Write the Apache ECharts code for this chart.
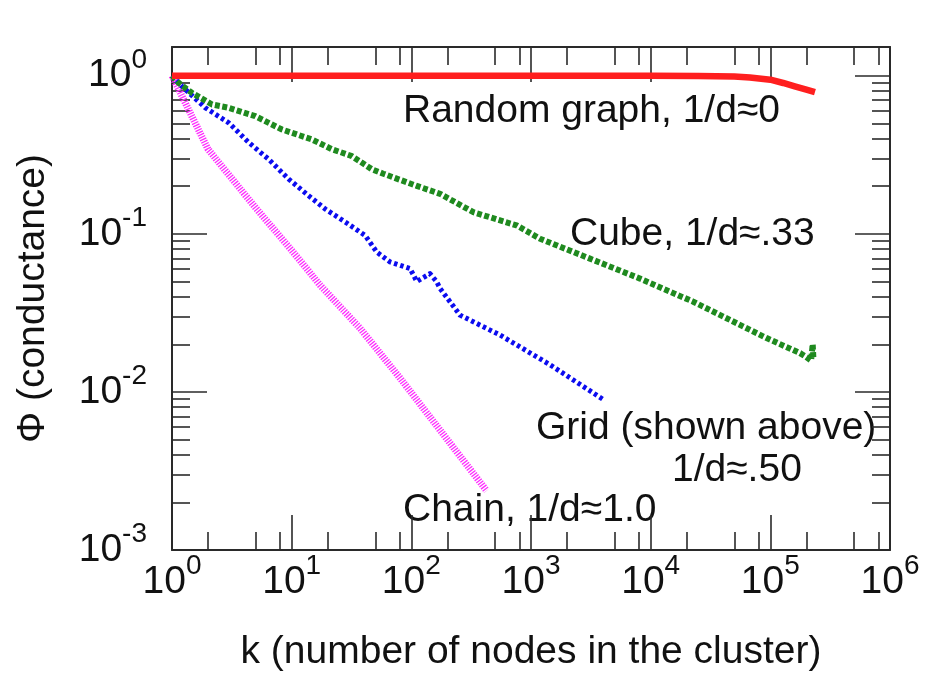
<!DOCTYPE html>
<html>
<head>
<meta charset="utf-8">
<script src="https://cdn.jsdelivr.net/npm/echarts@6/dist/echarts.min.js"></script>
<style>
  html, body { margin: 0; padding: 0; background: #fff; }
  #chart { width: 928px; height: 677px; }
</style>
</head>
<body>
<div id="chart"></div>
<script>
// Conductance Φ of the best cluster of size k, for four graph families.
const randomK   = [1, 10, 100, 1000, 10000, 25000, 50000, 67500, 100000, 128000, 160000, 200000, 236000];
const randomPhi = [1, 1, 1, 1, 1, 0.998, 0.99, 0.975, 0.944, 0.90, 0.857, 0.817, 0.787];

const cubeK   = [1, 1.14, 1.47, 2.16, 2.98, 4.97, 8.3, 14.8, 21.7, 31.9, 46.9, 58.3, 111, 174, 330, 759, 1190, 3110, 8150, 22700, 93100, 177000, 200000, 219000, 226000, 229000];
const cubePhi = [1, 0.90, 0.778, 0.658, 0.627, 0.555, 0.457, 0.395, 0.343, 0.310, 0.256, 0.240, 0.201, 0.179, 0.137, 0.113, 0.0931, 0.0697, 0.0521, 0.0372, 0.0219, 0.0176, 0.0166, 0.0158, 0.0200, 0.0163];

const gridK   = [1, 1.21, 1.9, 2.98, 4.38, 6.43, 9.44, 13.9, 19.1, 28.1, 41.2, 51.4, 66.4, 97.5, 111, 143, 163, 174, 255, 551, 1440, 4020];
const gridPhi = [1, 0.857, 0.627, 0.504, 0.378, 0.296, 0.222, 0.174, 0.1435, 0.1186, 0.0975, 0.0767, 0.0664, 0.0603, 0.0500, 0.0560, 0.0497, 0.0451, 0.0306, 0.0229, 0.01486, 0.00895];

const chainK   = [1, 2, 5, 10, 17.3, 37.2, 80.4, 200, 426];
const chainPhi = [1, 0.343, 0.146, 0.0787, 0.0473, 0.0253, 0.01225, 0.00499, 0.00237];

// Decade exponents for tick labels, and mantissas for the minor ticks.
const xExponents = [0, 1, 2, 3, 4, 5, 6];
const yExponents = [-3, -2, -1, 0];
const xMinorMantissas = [2, 5, 8];
const yMinorMantissas = [2, 3, 4, 5, 6, 7, 8, 9];
const yTopPhi = 1.52;

const FONT = '"Liberation Sans", Arial, sans-serif';
const INK = '#111';
const AXIS = '#2a2a2a';

// Both axes are drawn in log10 space.
const toLog = (ks, phis) => ks.map((k, i) => [Math.log10(k), Math.log10(phis[i])]);

const minorValues = (exps, mants) => {
  const out = [];
  exps.forEach(e => mants.forEach(m => out.push(e + Math.log10(m))));
  return out;
};
const xMinor = minorValues(xExponents.slice(0, -1), xMinorMantissas);
const yMinor = minorValues(yExponents.slice(0, -1), yMinorMantissas);

const powLabel = v => '{b|10}{s|' + Math.round(v) + '}';
const labelRich = {
  b: { fontSize: 39, fontFamily: FONT, color: INK, lineHeight: 40 },
  s: { fontSize: 28, fontFamily: FONT, color: INK, lineHeight: 28, padding: [0, 0, 31, 0] }
};

const xRange = { min: xExponents[0], max: xExponents[xExponents.length - 1] };
const yRange = { min: yExponents[0], max: Math.log10(yTopPhi) };

const frameLine = { show: true, onZero: false, lineStyle: { color: AXIS, width: 2 } };
const noLine = { show: false, onZero: false };
const tickStyle = { color: AXIS, width: 1.6 };

function axis(base, opts) {
  return Object.assign({
    type: 'value',
    splitLine: { show: false },
    axisLine: noLine,
    axisLabel: { show: false },
    axisTick: { show: false }
  }, base, opts);
}

const majorTick = vals => ({ show: true, inside: true, length: 35, lineStyle: tickStyle, customValues: vals });
const minorTick = vals => ({ show: true, inside: true, length: 18, lineStyle: tickStyle, customValues: vals });

const xAxes = [
  axis(xRange, {
    position: 'bottom',
    name: 'k (number of nodes in the cluster)',
    nameLocation: 'middle',
    nameGap: 83,
    nameTextStyle: { fontSize: 39, fontFamily: FONT, color: INK, lineHeight: 39 },
    axisLine: frameLine,
    axisTick: majorTick(xExponents),
    axisLabel: { show: true, margin: 12, customValues: xExponents, formatter: powLabel, rich: labelRich }
  }),
  axis(xRange, { position: 'bottom', axisTick: minorTick(xMinor) }),
  axis(xRange, { position: 'top', axisLine: frameLine, axisTick: majorTick(xExponents) }),
  axis(xRange, { position: 'top', axisTick: minorTick(xMinor) })
];

const yAxes = [
  axis(yRange, {
    position: 'left',
    name: 'Φ (conductance)',
    nameLocation: 'middle',
    nameGap: 119,
    nameTextStyle: { fontSize: 39, fontFamily: FONT, color: INK, lineHeight: 39 },
    axisLine: frameLine,
    axisTick: majorTick(yExponents),
    axisLabel: { show: true, margin: 25, customValues: yExponents, formatter: powLabel, rich: labelRich }
  }),
  axis(yRange, { position: 'left', axisTick: minorTick(yMinor) }),
  axis(yRange, { position: 'right', axisLine: frameLine, axisTick: majorTick(yExponents) }),
  axis(yRange, { position: 'right', axisTick: minorTick(yMinor) })
];

function curve(name, ks, phis, color, width, dash) {
  return {
    name, type: 'line', xAxisIndex: 0, yAxisIndex: 0,
    data: toLog(ks, phis),
    showSymbol: false, symbol: 'none', smooth: false,
    lineStyle: { color, width, type: dash, cap: 'butt', join: 'round' },
    emphasis: { disabled: true }
  };
}

const annotations = [
  { text: 'Random graph, 1/d\u22480', x: 403, y: 111 },
  { text: 'Cube, 1/d\u2248.33', x: 570, y: 234 },
  { text: 'Grid (shown above)', x: 536, y: 428 },
  { text: '1/d\u2248.50', x: 672, y: 470 },
  { text: 'Chain, 1/d\u22481.0', x: 403, y: 510 }
];

const chart = echarts.init(document.getElementById('chart'), null, { renderer: 'canvas' });
chart.setOption({
  animation: false,
  backgroundColor: '#fff',
  grid: { left: 172, right: 38, top: 47, bottom: 123, containLabel: false },
  xAxis: xAxes,
  yAxis: yAxes,
  series: [
    curve('Chain', chainK, chainPhi, '#ff2cff', 7, [1.3, 1.3]),
    curve('Grid', gridK, gridPhi, '#0c0cf0', 5, [3.5, 3]),
    curve('Cube', cubeK, cubePhi, '#1f8a1f', 6, [5, 2.5]),
    curve('Random graph', randomK, randomPhi, '#ff1f1f', 6.5, 'solid')
  ],
  graphic: annotations.map(a => ({
    type: 'text', x: a.x, y: a.y, silent: true,
    style: { text: a.text, font: '39px ' + FONT, fill: INK, verticalAlign: 'middle', align: 'left' }
  }))
});
</script>
</body>
</html>
